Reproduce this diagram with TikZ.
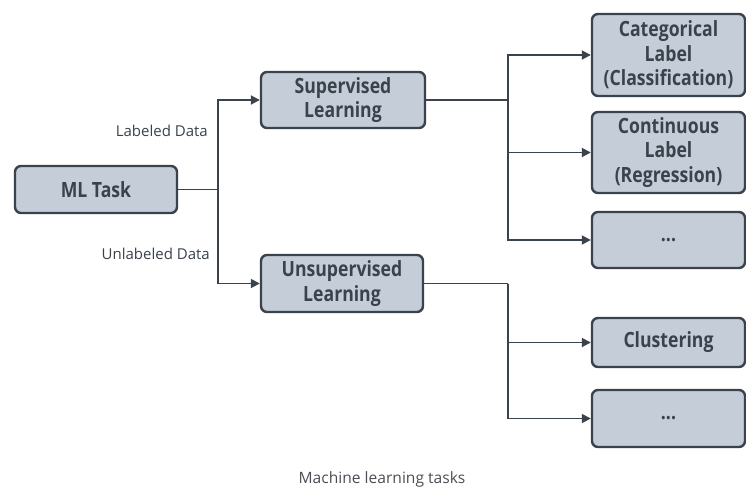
\documentclass[tikz,border=0pt]{standalone}
\usepackage{fontspec}
\setmainfont{Open Sans}
\newfontfamily\boxfont{Open Sans}[FakeStretch=0.84]
\usetikzlibrary{arrows.meta}
\definecolor{boxfill}{HTML}{C5CED8}
\definecolor{ink}{HTML}{3A424B}
\definecolor{captiongray}{HTML}{4A4F55}
\begin{document}
\begin{tikzpicture}[x=1pt,y=-1pt,
  box/.style={draw=ink, fill=boxfill, line width=2.4pt, rounded corners=6pt,
    text=ink, font=\boxfont\fontsize{21}{24.5}\selectfont\bfseries, align=center, inner sep=0pt},
  link/.style={draw=ink, line width=1.8pt},
  arr/.style={link, -{Triangle[length=9pt,width=9pt]}},
  lbl/.style={text=ink, font=\fontsize{15}{17}\selectfont, anchor=east, inner sep=0pt}]
\useasboundingbox (0,0) rectangle (746,491);

% root and the two learning families
\node[box, minimum width=162, minimum height=47] (ml)  at (96,189.5) {ML Task};
\node[box, minimum width=164, minimum height=56] (sup) at (343,100) {Supervised\\Learning};
\node[box, minimum width=162, minimum height=57] (uns) at (342,283.5) {Unsupervised\\Learning};

% task boxes on the right
\node[box, minimum width=153, minimum height=82] (cat)  at (668.5,55)    {Categorical\\Label\\(Classification)};
\node[box, minimum width=153, minimum height=81] (con)  at (668.5,152.5)  {Continuous\\Label\\(Regression)};
\node[box, minimum width=153, minimum height=56] (dsup) at (668.5,240)   {...};
\node[box, minimum width=153, minimum height=49] (clu)  at (668.5,342.5) {Clustering};
\node[box, minimum width=153, minimum height=57] (duns) at (668.5,418.5) {...};

% branch points
\coordinate (jm) at (218,189.5);
\coordinate (js) at (508,100);
\coordinate (ju) at (508,283.5);

\draw[link] (ml.east) -- (jm);
\draw[arr] (jm) |- (sup.west);
\draw[arr] (jm) |- (uns.west);

\draw[link] (sup.east) -- (js);
\draw[arr] (js) |- (cat.west);
\draw[arr] (js) |- (con.west);
\draw[arr] (js) |- (dsup.west);

\draw[link] (uns.east) -- (ju);
\draw[arr] (ju) |- (clu.west);
\draw[arr] (ju) |- (duns.west);

% edge labels
\node[lbl] (lab)   at (208,131) {Labeled Data};
\node[lbl] (unlab) at (210,254) {Unlabeled Data};

% caption
\node[text=captiongray, font=\fontsize{15.6}{18}\selectfont] (cap) at (382,479) {Machine learning tasks};
\end{tikzpicture}
\end{document}
